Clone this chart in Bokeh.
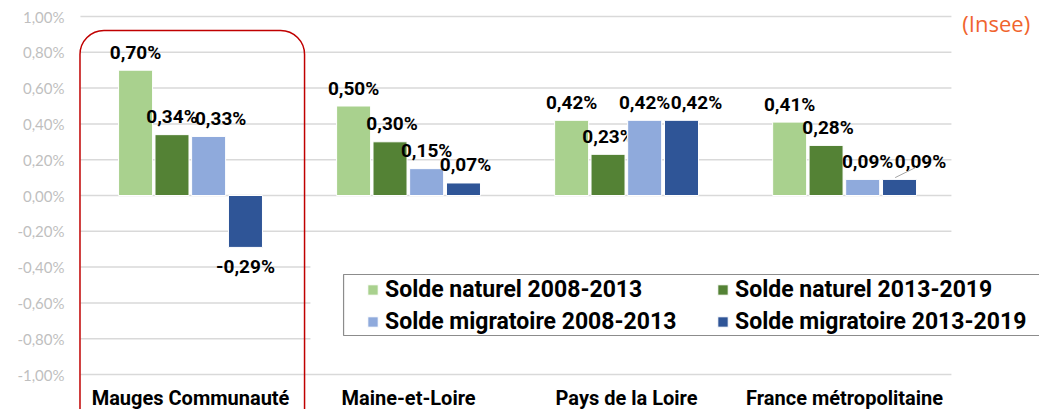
from bokeh.plotting import figure
from bokeh.models import Range1d, FixedTicker, Legend, LegendItem, ColumnDataSource
from bokeh.core.properties import value
from bokeh.embed import file_html
from bokeh.resources import INLINE

# ---------------- data ----------------
categories = ["Mauges Communauté", "Maine-et-Loire", "Pays de la Loire", "France métropolitaine"]
series_names = ["Solde naturel 2008-2013", "Solde naturel 2013-2019",
                "Solde migratoire 2008-2013", "Solde migratoire 2013-2019"]
naturel_2008_2013 = [0.70, 0.50, 0.42, 0.41]
naturel_2013_2019 = [0.34, 0.30, 0.23, 0.28]
migratoire_2008_2013 = [0.33, 0.15, 0.42, 0.09]
migratoire_2013_2019 = [-0.29, 0.07, 0.42, 0.09]
tick_values = [-1.0, -0.8, -0.6, -0.4, -0.2, 0.0, 0.2, 0.4, 0.6, 0.8, 1.0]
tick_labels = ["-1,00%", "-0,80%", "-0,60%", "-0,40%", "-0,20%", "0,00%",
               "0,20%", "0,40%", "0,60%", "0,80%", "1,00%"]
source_note = "(Insee)"

# ---------------- style ----------------
colors = ["#A9D18E", "#548235", "#8FAADC", "#2F5597"]
bar_offsets = [-0.252, -0.085, 0.083, 0.252]
bar_width = 0.156
# label nudges in px (per series, per category)
label_dx = [[0, 0, 0, 0], [0, 2, 0, 2], [12, 0, 0, 5], [0, 2, 15, 21]]
FONT = "Roboto"

p = figure(width=1039, height=409, x_range=Range1d(-0.023, 4.394),
           y_range=Range1d(-1.1955, 1.0894), output_backend="svg",
           toolbar_location=None, x_axis_location=None,
           min_border_left=76, min_border_right=0, min_border_top=0, min_border_bottom=0)
p.outline_line_color = None
p.grid.visible = False
p.background_fill_color = "white"

ax = p.yaxis[0]
ax.ticker = FixedTicker(ticks=tick_values)
ax.major_label_overrides = {v: l for v, l in zip(tick_values, tick_labels)}
ax.axis_line_color = None
ax.major_tick_line_color = None
ax.minor_tick_line_color = None
ax.major_label_standoff = 6
ax.major_label_text_color = "#BFBFBF"
ax.major_label_text_font = "Lato"
ax.major_label_text_font_size = "15px"

# gridlines
grid_end = [3.99 if v not in (-0.4, -0.6, -0.8) else 1.05 for v in tick_values]
p.segment(x0=[-0.005] * len(tick_values), x1=grid_end, y0=tick_values, y1=tick_values,
          line_color="#D9D9D9", line_width=1.5)

series = [naturel_2008_2013, naturel_2013_2019, migratoire_2008_2013, migratoire_2013_2019]
renderers = []
xs_cat = [i + 0.5 for i in range(len(categories))]
for s, vals in enumerate(series):
    xs = [c + bar_offsets[s] for c in xs_cat]
    r = p.vbar(x=xs, top=vals, bottom=0, width=bar_width, fill_color=colors[s],
               line_color="white", line_width=1)
    renderers.append(r)
    labels = [("%.2f%%" % v).replace(".", ",") for v in vals]
    yoff = [-18 if v >= 0 else 19 for v in vals]
    src = ColumnDataSource(dict(x=xs, y=vals, t=labels, dx=label_dx[s], dy=yoff))
    p.text(x="x", y="y", text="t", x_offset="dx", y_offset="dy", source=src,
           text_align="center", text_baseline="middle", text_color="black",
           text_font=value(FONT), text_font_style="bold", text_font_size="19px")

# leader line for the last label
lx = xs_cat[3] + bar_offsets[3]
lv = migratoire_2013_2019[3]
p.segment(x0=[lx - 0.02], y0=[lv + 0.01], x1=[lx + 0.075], y1=[lv + 0.067],
          line_color="#A6A6A6", line_width=1)

# category labels
p.text(x=xs_cat, y=[-1.1285] * 4, text=categories, text_align="center",
       text_baseline="alphabetic", text_color="black", text_font=value(FONT),
       text_font_style="bold", text_font_size="20px")

# highlight rounded box around first category
p.quad(left=[-0.007], right=[1.023], top=[0.922], bottom=[-1.5], fill_alpha=0,
       line_color="#C00000", line_width=1.5, border_radius=24)

# source note
p.text(x=[4.04], y=[0.966], text=[source_note], text_align="left", text_baseline="middle",
       text_color="#F0642E", text_font=value("Open Sans"), text_font_size="22px")

# legend box
p.quad(left=[1.202], right=[4.6], top=[-0.4413], bottom=[-0.7821], fill_color="white",
       line_color="#8C8C8C", line_width=1.2)

order = [0, 2, 1, 3]
legend = Legend(items=[LegendItem(label=series_names[i], renderers=[renderers[i]]) for i in order],
                ncols=2, location=(290, 73), padding=0, margin=0, spacing=2,
                glyph_width=13, glyph_height=13, label_standoff=6, label_height=30,
                label_width=329, border_line_color=None, background_fill_alpha=0,
                label_text_font=FONT, label_text_font_style="bold",
                label_text_font_size="23px", label_text_color="black")
p.add_layout(legend, "center")

open("out.html", "w").write(file_html(p, INLINE))
